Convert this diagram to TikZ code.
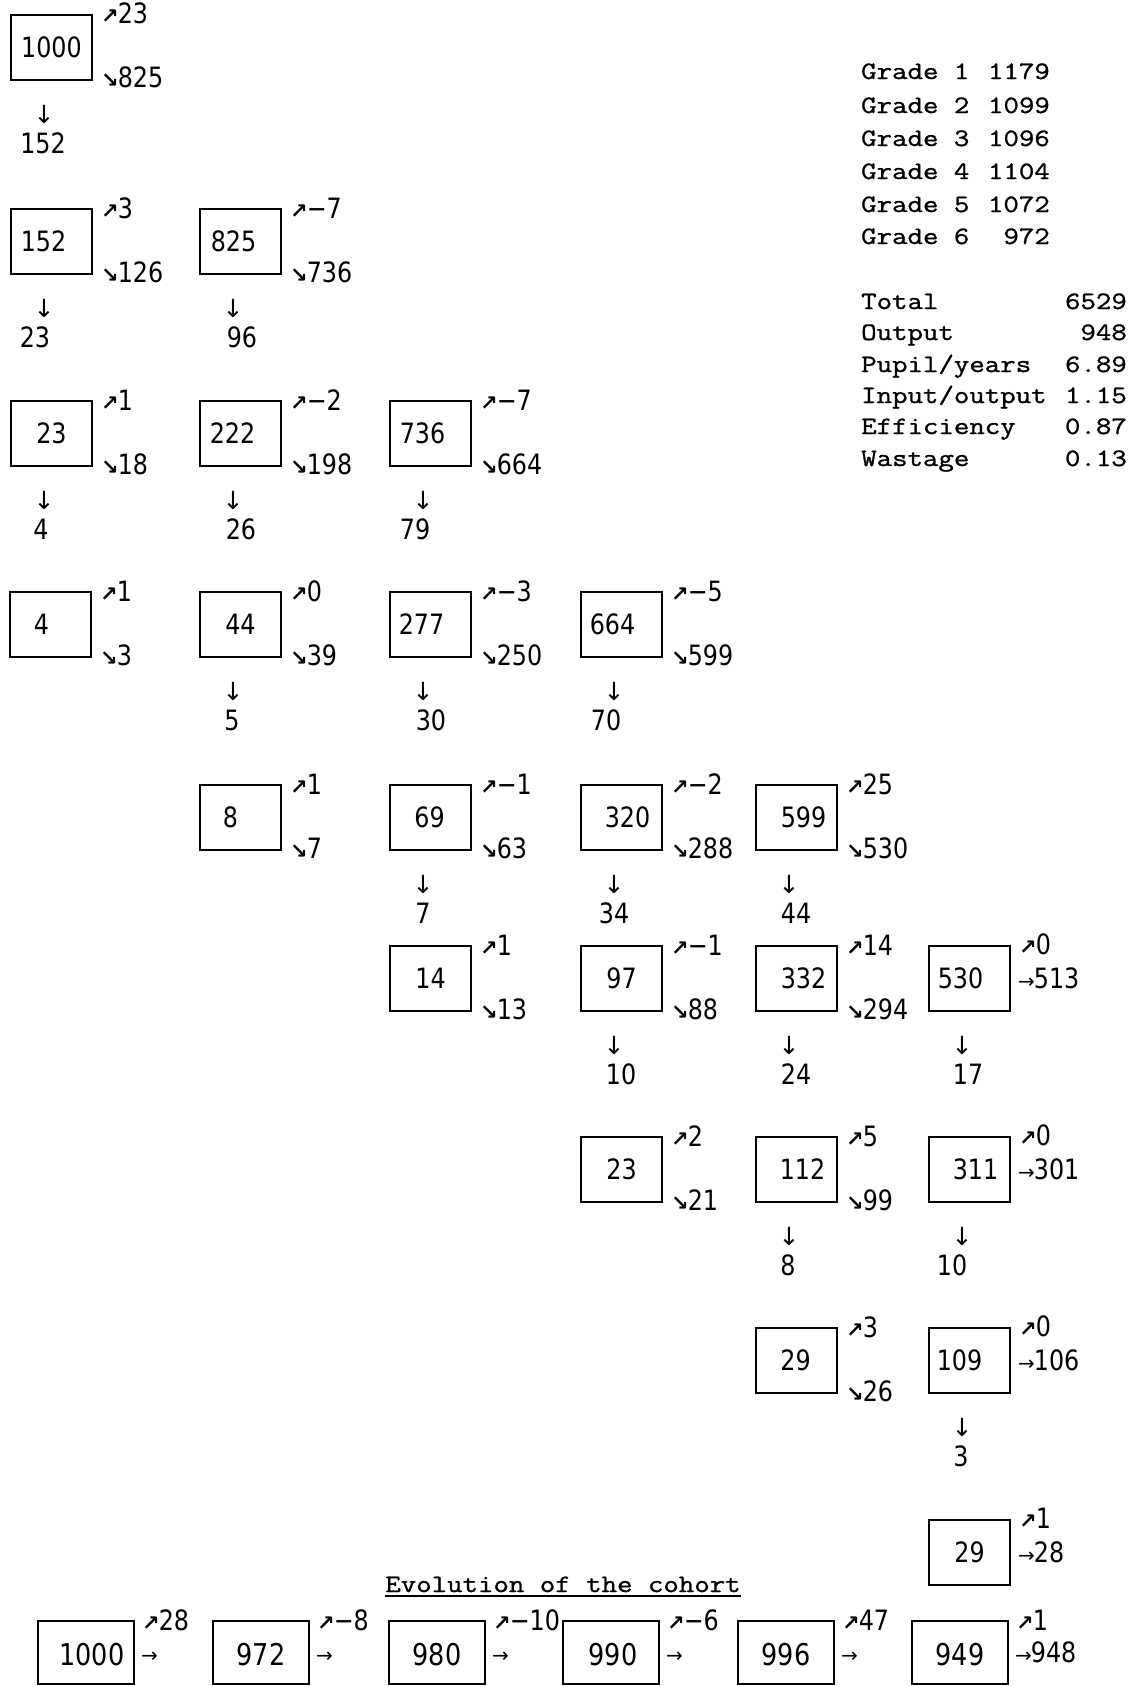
\documentclass[tikz,border=0pt]{standalone}
\usepackage{fontspec}
\newfontfamily\numf[FakeStretch=0.85]{DejaVu Sans}
\newfontfamily\arf{DejaVu Sans}
\newfontfamily\twf[FakeStretch=1.2,FakeBold=1.2]{Latin Modern Mono}
\newcommand\UA{{\arf\bfseries\fontsize{21}{21}\selectfont ↗}\kern-1pt}
\newcommand\DA{{\arf\bfseries\fontsize{21}{21}\selectfont ↘}\kern-1pt}
\newcommand\RA{{\arf\fontsize{20}{20}\selectfont →}\kern-1pt}
\tikzset{
  cell/.style={draw, line width=1.6pt, minimum width=81pt, minimum height=65pt, inner sep=0pt},
  cellb/.style={draw, line width=1.6pt, minimum width=96pt, minimum height=63pt, inner sep=0pt},
  num/.style={inner sep=0pt, font=\numf\fontsize{28}{30}\selectfont, text height=20pt, text depth=0pt},
  numb/.style={inner sep=0pt, font=\numf\fontsize{30}{32}\selectfont, text height=22pt, text depth=0pt},
  lab/.style={inner sep=0pt, anchor=west, font=\numf\fontsize{28}{30}\selectfont, text height=20pt, text depth=0pt},
  darrow/.style={inner sep=0pt, font=\arf\fontsize{25}{25}\selectfont},
  tw/.style={inner sep=0pt, font=\twf\fontsize{25}{27}\selectfont},
}
\newcommand\bx[7]{%
  \node[cell] (#1) at ({#2+40.5},{#3+32.5}) {};
  \node[num] (#1n) at ({#2+40.5#5},{#3+32.5}) {#4};
  \node[lab] (#1u) at ({#2+90},{#3-1}) {\UA#6};
  \node[lab] (#1d) at ({#2+90},{#3+63}) {\DA#7};}
\newcommand\bxr[7]{%
  \node[cell] (#1) at ({#2+40.5},{#3+32.5}) {};
  \node[num] (#1n) at ({#2+40.5#5},{#3+32.5}) {#4};
  \node[lab] (#1u) at ({#2+90},{#3-2}) {\UA#6};
  \node[lab] (#1d) at ({#2+89},{#3+32}) {\RA#7};}
\newcommand\dn[5]{%
  \node[darrow] (#1a) at ({#2+33},{#3+65+34}) {↓};
  \node[num] (#1b) at ({#4},{#3+65+63}) {#5};}
\newcommand\bb[6]{%
  \node[cellb] (#1) at ({#2+48},1652.5) {};
  \node[numb] (#1n) at ({#2+48#4},1654) {#3};
  \node[lab] (#1u) at ({#2+104},1620) {\UA#5};
  \node[lab] (#1d) at ({#2+103},1652) {\RA#6};}
\begin{document}
\begin{tikzpicture}[x=1pt,y=-1pt]
\path[use as bounding box, fill=white] (0,0) rectangle (1146,1686);
% cohort tree
\bx{a}{11}{15}{1000}{+0}{23}{825}
\dn{a}{11}{15}{43}{152}
\bx{bA}{11}{209}{152}{-8}{3}{126}
\dn{bA}{11}{209}{35}{23}
\bx{bB}{200}{209}{825}{-7}{−7}{736}
\dn{bB}{200}{209}{242}{96}
\bx{cA}{11}{401}{23}{+0}{1}{18}
\dn{cA}{11}{401}{41}{4}
\bx{cB}{200}{401}{222}{-8}{−2}{198}
\dn{cB}{200}{401}{241}{26}
\bx{cC}{390}{401}{736}{-8}{−7}{664}
\dn{cC}{390}{401}{415}{79}
\bx{dA}{10}{592}{4}{-9}{1}{3}
\bx{dB}{200}{592}{44}{+0}{0}{39}
\dn{dB}{200}{592}{232}{5}
\bx{dC}{390}{592}{277}{-9}{−3}{250}
\dn{dC}{390}{592}{431}{30}
\bx{dD}{581}{592}{664}{-9}{−5}{599}
\dn{dD}{581}{592}{606}{70}
\bx{eB}{200}{785}{8}{-10}{1}{7}
\bx{eC}{390}{785}{69}{-1}{−1}{63}
\dn{eC}{390}{785}{423}{7}
\bx{eD}{581}{785}{320}{+6}{−2}{288}
\dn{eD}{581}{785}{614}{34}
\bx{eE}{756}{785}{599}{+7}{25}{530}
\dn{eE}{756}{785}{796}{44}
\bx{fC}{390}{946}{14}{+0}{1}{13}
\bx{fD}{581}{946}{97}{+0}{−1}{88}
\dn{fD}{581}{946}{621}{10}
\bx{fE}{756}{946}{332}{+7}{14}{294}
\dn{fE}{756}{946}{796}{24}
\bxr{fF}{929}{946}{530}{-9}{0}{513}
\dn{fF}{929}{946}{968}{17}
\bx{gD}{581}{1137}{23}{+0}{2}{21}
\bx{gE}{756}{1137}{112}{+6}{5}{99}
\dn{gE}{756}{1137}{788}{8}
\bxr{gF}{929}{1137}{311}{+6}{0}{301}
\dn{gF}{929}{1137}{952}{10}
\bx{hE}{756}{1328}{29}{-1}{3}{26}
\bxr{hF}{929}{1328}{109}{-10}{0}{106}
\dn{hF}{929}{1328}{961}{3}
\bxr{iF}{929}{1520}{29}{+0}{1}{28}
% summary table
\node[tw,anchor=base west] (g1) at (861,79) {Grade 1};
\node[tw,anchor=base east] (g1v) at (1050,79) {1179};
\node[tw,anchor=base west] (g2) at (861,113) {Grade 2};
\node[tw,anchor=base east] (g2v) at (1050,113) {1099};
\node[tw,anchor=base west] (g3) at (861,146) {Grade 3};
\node[tw,anchor=base east] (g3v) at (1050,146) {1096};
\node[tw,anchor=base west] (g4) at (861,179) {Grade 4};
\node[tw,anchor=base east] (g4v) at (1050,179) {1104};
\node[tw,anchor=base west] (g5) at (861,212) {Grade 5};
\node[tw,anchor=base east] (g5v) at (1050,212) {1072};
\node[tw,anchor=base west] (g6) at (861,244) {Grade 6};
\node[tw,anchor=base east] (g6v) at (1050,244) {972};
\node[tw,anchor=base west] (t1) at (861,309) {Total};
\node[tw,anchor=base east] (t1v) at (1127,309) {6529};
\node[tw,anchor=base west] (t2) at (861,340) {Output};
\node[tw,anchor=base east] (t2v) at (1127,340) {948};
\node[tw,anchor=base west] (t3) at (861,372) {Pupil/years};
\node[tw,anchor=base east] (t3v) at (1127,372) {6.89};
\node[tw,anchor=base west] (t4) at (861,403) {Input/output};
\node[tw,anchor=base east] (t4v) at (1127,403) {1.15};
\node[tw,anchor=base west] (t5) at (861,434) {Efficiency};
\node[tw,anchor=base east] (t5v) at (1127,434) {0.87};
\node[tw,anchor=base west] (t6) at (861,466) {Wastage};
\node[tw,anchor=base east] (t6v) at (1127,466) {0.13};
% evolution of the cohort
\node[tw,anchor=base] (title) at (563,1592) {Evolution of the cohort};
\draw[line width=1.2pt] ([yshift=-4pt]title.base west) -- ([yshift=-4pt]title.base east);
\bb{zA}{38}{1000}{+6}{28}{}
\bb{zB}{213}{972}{+0}{−8}{}
\bb{zC}{389}{980}{+0}{−10}{}
\bb{zD}{563}{990}{+2}{−6}{}
\bb{zE}{738}{996}{+0}{47}{}
\bb{zF}{912}{949}{+0}{1}{948}
\end{tikzpicture}
\end{document}
